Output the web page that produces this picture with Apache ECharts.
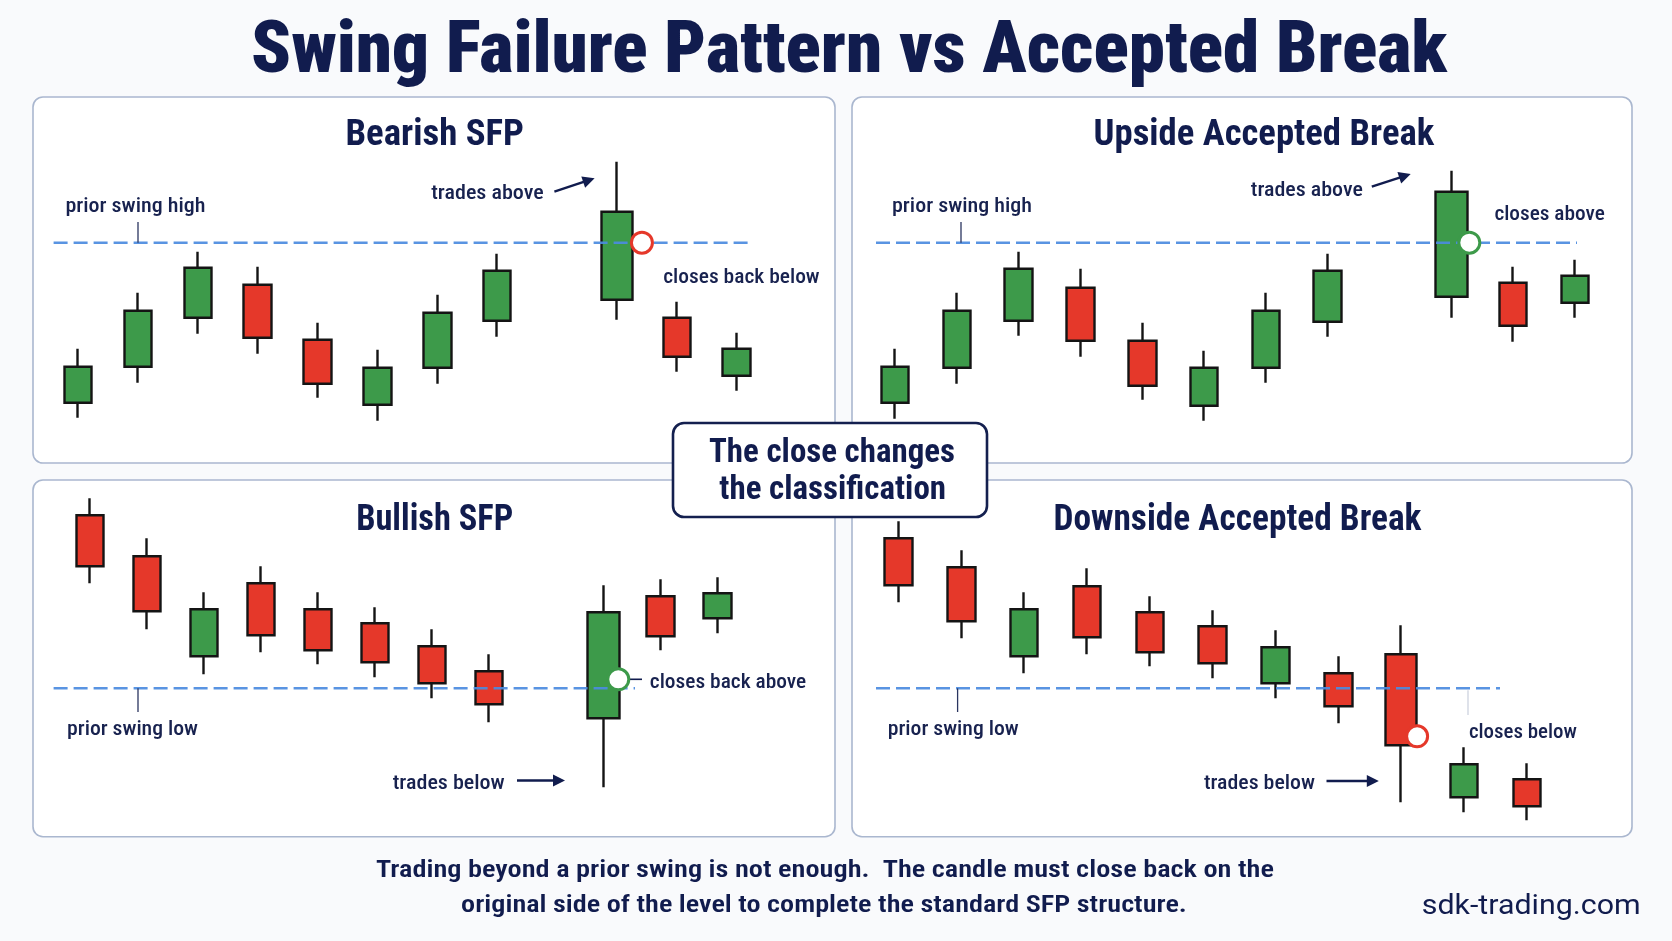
<!DOCTYPE html>
<html>
<head>
<meta charset="utf-8">
<title>Swing Failure Pattern vs Accepted Break</title>
<script src="https://cdn.jsdelivr.net/npm/echarts@6/dist/echarts.min.js"></script>
<style>
html,body{margin:0;padding:0;background:#f9fafc;}
#chart{width:1672px;height:941px;}
</style>
</head>
<body>
<div id="chart"></div>
<script>
// ---------------- data ----------------
const mainTitle = 'Swing Failure Pattern vs Accepted Break';
const panelTitles = ['Bearish SFP', 'Upside Accepted Break', 'Bullish SFP', 'Downside Accepted Break'];
const calloutLines = ['The close changes', 'the classification'];
const footnoteLines = [
  'Trading beyond a prior swing is not enough.  The candle must close back on the',
  'original side of the level to complete the standard SFP structure.'
];
const siteName = 'sdk-trading.com';

const barsWithGap = ['1', '2', '3', '4', '5', '6', '7', '8', '9', '10', '11', '12'];
const barsNoGap = ['1', '2', '3', '4', '5', '6', '7', '8', '9', '10', '11'];
const swingLevel = 100;

// candles: [open, close, low, high]; null = empty slot
const bearishSFP = [
  [20, 38, 12.5, 47], [38, 66, 30, 75], [62.5, 87.5, 54.5, 95.5], [79, 52.5, 44.5, 88],
  [51.5, 29.5, 22.5, 60], [19, 37.5, 11, 46.5], [37.5, 65, 29.5, 74], [61, 86, 53, 94.5],
  null, [71.5, 115.5, 61.5, 140.5], [62.5, 43, 35.5, 70.5], [33.5, 47, 26, 55]
];
const upsideBreak = [
  [20, 38, 12, 47], [37.5, 66, 29.5, 75], [61, 87, 53.5, 95.5], [77.5, 51, 43, 87],
  [51, 28.5, 21.5, 60], [18.5, 37.5, 11, 46], [37.5, 66, 30, 75], [60.5, 86, 53, 94.5],
  null, [73, 125.5, 62.5, 136], [80, 58.5, 50.5, 88], [70, 83.5, 62.5, 91.5]
];
const bullishSFP = [
  [186.5, 161, 152.5, 195], [166, 138.5, 129.5, 175], [116, 139.5, 107, 148], [152.5, 126.5, 118, 161],
  [139.5, 119, 112, 148], [132.5, 113, 105.5, 140.5], [121, 102.5, 95, 129.5], [108.5, 92, 83, 117],
  null, [85, 138, 50.5, 151.5], [146, 126, 119, 154.5], [135, 147.5, 127.5, 155.5]
];
const downsideBreak = [
  [175, 151.5, 143, 183.5], [160.5, 133.5, 125, 169], [116, 139.5, 107.5, 148], [151, 125.5, 117, 160],
  [138, 118, 111, 146], [131, 112.5, 105, 139], [102.5, 120.5, 95, 129], [107.5, 91, 82.5, 116],
  [117, 71.5, 43, 131.5], [45.5, 62, 38, 70.5], [54.5, 41, 34, 62.5]
];
const keyBar = [9, 9, 9, 8];                 // candle that probes the swing level
const closeCheck = [100, 100, 104.5, 76];     // where the close is judged

const labelTexts = {
  high: 'prior swing high', low: 'prior swing low',
  above: 'trades above', below: 'trades below',
  backBelow: 'closes back below', closesAbove: 'closes above',
  backAbove: 'closes back above', closesBelow: 'closes below'
};

// ---------------- styles / layout ----------------
const NAVY = '#111c4e';
const LABEL = '#18224f';
const GREEN = '#3d9a4a';
const RED = '#e5382a';
const EDGE = '#141414';
const DASH = '#4b8be0';
const FRAME = '#aab7cf';

const mctx = document.createElement('canvas').getContext('2d');
function hasFont(f) {
  const t = 'abcdefghijklmnopqrstuvwxyz ABCDEFGHIJ 0123456789';
  mctx.font = 'bold 40px monospace';
  const a = mctx.measureText(t).width;
  mctx.font = 'bold 40px "' + f + '", monospace';
  const b = mctx.measureText(t).width;
  return Math.abs(a - b) > 0.5;
}
const condensed = ['Roboto Condensed', 'Liberation Sans Narrow', 'Arial Narrow'].find(hasFont);
const FAM = condensed ? '"' + condensed + '", Roboto, sans-serif' : 'Roboto, "Liberation Sans", sans-serif';
const FAM_REG = 'Roboto, "Liberation Sans", sans-serif';
const MID = 0.27;

function fitText(str, ax, baseline, width, size, weight, align, color, fam, z) {
  fam = fam || FAM;
  mctx.font = weight + ' ' + size + 'px ' + fam;
  const w = mctx.measureText(str).width;
  return {
    type: 'text', x: ax, y: baseline + 1 - MID * size, scaleX: width / w, scaleY: 1,
    z: z || 6, silent: true,
    style: {
      text: str, x: 0, y: 0, fill: color || LABEL,
      fontSize: size, fontWeight: weight, fontFamily: fam,
      align: align, verticalAlign: 'middle'
    }
  };
}
function seg(x1, y1, x2, y2, color, w, z, opacity) {
  return { type: 'line', z: z || 6, silent: true,
    shape: { x1: x1, y1: y1, x2: x2, y2: y2 },
    style: { stroke: color, lineWidth: w, opacity: opacity == null ? 1 : opacity } };
}
function arrow(x1, y1, x2, y2) {
  const dx = x2 - x1, dy = y2 - y1, L = Math.hypot(dx, dy);
  const ux = dx / L, uy = dy / L, nx = -uy, ny = ux;
  const hl = 12, hw = 6;
  const bx = x2 - ux * hl, by = y2 - uy * hl;
  return [
    seg(x1, y1, x2 - ux * 6, y2 - uy * 6, NAVY, 2.4),
    { type: 'polygon', z: 6, silent: true,
      shape: { points: [[x2, y2], [bx + nx * hw, by + ny * hw], [bx - nx * hw, by - ny * hw]] },
      style: { fill: NAVY } }
  ];
}

const PANELS = [
  { frame: [33, 97, 802, 366], grid: { left: 48.2, top: 142.7, width: 718.4, height: 300 }, y: [0, 150],
    cats: barsWithGap, data: bearishSFP, ring: RED, ringOffset: 25, dash: [53.6, 752.6],
    title: [434.7, 144.3, 178.5] },
  { frame: [852, 97, 780, 366], grid: { left: 864.2, top: 142.7, width: 741.6, height: 300 }, y: [0, 150],
    cats: barsWithGap, data: upsideBreak, ring: GREEN, ringOffset: 18, dash: [876, 1577],
    title: [1263.9, 144.3, 340.7] },
  { frame: [33, 480, 802, 356.7], grid: { left: 61.3, top: 488.3, width: 684.6, height: 320 }, y: [40, 200],
    cats: barsWithGap, data: bullishSFP, ring: GREEN, ringOffset: 15, dash: [53.6, 635],
    title: [434.7, 530, 157] },
  { frame: [852, 480, 780, 356.7], grid: { left: 867, top: 488.3, width: 691.2, height: 360 }, y: [20, 200],
    cats: barsNoGap, data: downsideBreak, ring: RED, ringOffset: 16, dash: [876, 1500],
    title: [1237.5, 530, 368] }
];

const CANDLE_STYLE = {
  color: GREEN, color0: RED, borderColor: EDGE, borderColor0: EDGE, borderWidth: 2.4
};
const BLANK = ['-', '-', '-', '-'];

const series = [];
PANELS.forEach(function (p, i) {
  const k = keyBar[i];
  series.push({
    type: 'candlestick', xAxisIndex: i, yAxisIndex: i, barWidth: 28, silent: true, z: 2,
    data: p.data.map(function (d, j) { return d && j !== k ? d : BLANK; }),
    itemStyle: CANDLE_STYLE
  });
  series.push({
    type: 'candlestick', xAxisIndex: i, yAxisIndex: i, barWidth: 32, silent: true, z: 2,
    data: p.data.map(function (d, j) { return j === k ? d : BLANK; }),
    itemStyle: CANDLE_STYLE
  });
  series.push({
    type: 'scatter', xAxisIndex: i, yAxisIndex: i, silent: true, z: 8,
    symbol: 'circle', symbolSize: 21, symbolOffset: [p.ringOffset, 0],
    data: [[p.cats[k], closeCheck[i]]],
    itemStyle: { color: '#ffffff', borderColor: p.ring, borderWidth: 3, opacity: 1 }
  });
});

const chart = echarts.init(document.getElementById('chart'), null, { renderer: 'canvas' });
chart.setOption({
  animation: false,
  backgroundColor: '#f9fafc',
  grid: PANELS.map(function (p) { return { left: p.grid.left, top: p.grid.top, width: p.grid.width, height: p.grid.height }; }),
  xAxis: PANELS.map(function (p, i) { return { type: 'category', gridIndex: i, data: p.cats, show: false, boundaryGap: true }; }),
  yAxis: PANELS.map(function (p, i) { return { type: 'value', gridIndex: i, min: p.y[0], max: p.y[1], show: false }; }),
  series: series
});

// ---------------- annotations ----------------
const els = [];
// panel frames
PANELS.forEach(function (p) {
  els.push({ type: 'rect', z: 0, silent: true,
    shape: { x: p.frame[0], y: p.frame[1], width: p.frame[2], height: p.frame[3], r: 10 },
    style: { fill: '#ffffff', stroke: FRAME, lineWidth: 1.6 } });
});
// swing level lines (y from the axis scale)
const levelY = PANELS.map(function (p, i) {
  return chart.convertToPixel({ gridIndex: i }, [0, swingLevel])[1];
});
PANELS.forEach(function (p, i) {
  els.push({ type: 'line', z: 3, silent: true,
    shape: { x1: p.dash[0], y1: levelY[i], x2: p.dash[1], y2: levelY[i] },
    style: { stroke: DASH, lineWidth: 2.6, lineDash: [14, 6], opacity: 0.92 } });
});
// main + panel titles
els.push(fitText(mainTitle, 849, 72.7, 1196, 73, 900, 'center', NAVY));
PANELS.forEach(function (p, i) {
  els.push(fitText(panelTitles[i], p.title[0], p.title[1], p.title[2], 37, 'bold', 'center', NAVY));
});
// top-left: bearish SFP
els.push(fitText(labelTexts.high, 65.4, 211.7, 140, 20, 500, 'left'));
els.push(seg(138, 222, 138, levelY[0], '#2a3560', 1.3, 4));
els.push(fitText(labelTexts.above, 431.2, 198.3, 112.5, 20, 500, 'left'));
arrow(554.4, 191.7, 594.6, 178.3).forEach(function (e) { els.push(e); });
els.push(fitText(labelTexts.backBelow, 663.2, 282.7, 156.4, 20, 500, 'left'));
// top-right: upside accepted break
els.push(fitText(labelTexts.high, 892, 211.7, 140, 20, 500, 'left'));
els.push(seg(961, 222, 961, levelY[1], '#2a3560', 1.3, 4));
els.push(fitText(labelTexts.above, 1250.8, 195, 112, 20, 500, 'left'));
arrow(1371.8, 186.7, 1410.7, 174).forEach(function (e) { els.push(e); });
els.push(fitText(labelTexts.closesAbove, 1494.4, 219.3, 110.4, 20, 500, 'left'));
// bottom-left: bullish SFP
els.push(fitText(labelTexts.low, 67, 734, 131, 20, 500, 'left'));
els.push(seg(138, levelY[2], 138, 712, '#2a3560', 1.3, 4));
els.push(fitText(labelTexts.backAbove, 649.8, 687, 156.4, 20, 500, 'left'));
els.push(seg(616, 679.3, 642, 679.3, NAVY, 1.6, 4));
els.push(fitText(labelTexts.below, 392.7, 788, 112, 20, 500, 'left'));
arrow(517, 780.5, 565, 780.5).forEach(function (e) { els.push(e); });
// bottom-right: downside accepted break
els.push(fitText(labelTexts.low, 887.7, 734, 131, 20, 500, 'left'));
els.push(seg(957.6, levelY[3], 957.6, 712, '#2a3560', 1.3, 4));
els.push(seg(1468, levelY[3] + 2, 1468, 715, '#c9cfdc', 1.2, 4));
els.push(fitText(labelTexts.closesBelow, 1468.9, 737.7, 108, 20, 500, 'left'));
els.push(fitText(labelTexts.below, 1203.9, 788, 111, 20, 500, 'left'));
arrow(1326.5, 781, 1378.8, 781).forEach(function (e) { els.push(e); });
// centre callout
els.push({ type: 'rect', z: 10, silent: true,
  shape: { x: 673, y: 423, width: 314, height: 94, r: 11 },
  style: { fill: '#ffffff', stroke: '#14204f', lineWidth: 2.6 } });
els.push(fitText(calloutLines[0], 832, 461.7, 246, 33, 'bold', 'center', NAVY, null, 11));
els.push(fitText(calloutLines[1], 832.7, 498.3, 226.7, 33, 'bold', 'center', NAVY, null, 11));
// footnote + site
els.push(fitText(footnoteLines[0], 825, 876.7, 898, 23.5, 600, 'center', NAVY));
els.push(fitText(footnoteLines[1], 824, 911.7, 725.8, 23.5, 600, 'center', NAVY));
els.push(fitText(siteName, 1421.7, 914, 219, 27, 'normal', 'left', NAVY, FAM_REG));

chart.setOption({ graphic: { elements: els } });
</script>
</body>
</html>
